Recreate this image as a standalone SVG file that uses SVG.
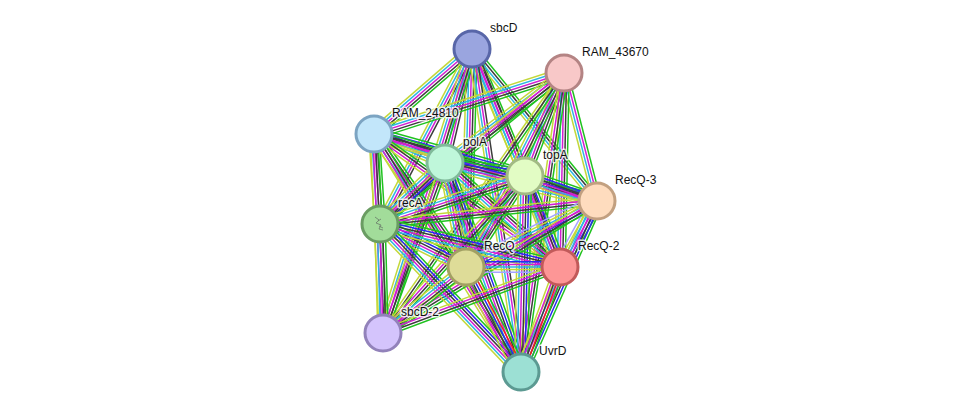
<svg xmlns="http://www.w3.org/2000/svg" width="975" height="417" viewBox="0 0 975 417">
<style>
#edges line{stroke-width:1.5;fill:none}
.n{stroke:#1fc21f}.f{stroke:#f02020}.o{stroke:#2828f0}.c{stroke:#3c3c3c}.e{stroke:#d21ed2}.d{stroke:#2eb6e2}.t{stroke:#c3d83a}.h{stroke:#a4a4ff}
.node circle{stroke-width:3}
.lbl{font-family:"Liberation Sans",Arial,sans-serif;font-size:12px;fill:#111;stroke:#fff;stroke-width:3px;stroke-opacity:0.8;paint-order:stroke;stroke-linejoin:round}
</style>
<rect width="975" height="417" fill="#fff"/>
<g id="edges">
<!-- sbcD -->
<g transform="translate(472 49) rotate(139.1)"><line class="n" x2="130" y1="-5.2" y2="-5.2"/><line class="c" x2="130" y1="-2.6" y2="-2.6"/><line class="e" x2="130"/><line class="d" x2="130" y1="2.6" y2="2.6"/><line class="t" x2="130" y1="5.2" y2="5.2"/></g>
<g transform="translate(472 49) rotate(103.3)"><line class="c" x2="117" y1="-3.9" y2="-3.9"/><line class="e" x2="117" y1="-1.3" y2="-1.3"/><line class="d" x2="117" y1="1.3" y2="1.3"/><line class="t" x2="117" y1="3.9" y2="3.9"/></g>
<g transform="translate(472 49) rotate(67.35)"><line class="n" x2="138" y1="-5.2" y2="-5.2"/><line class="c" x2="138" y1="-2.6" y2="-2.6"/><line class="e" x2="138"/><line class="d" x2="138" y1="2.6" y2="2.6"/><line class="t" x2="138" y1="5.2" y2="5.2"/></g>
<g transform="translate(472 49) rotate(50.56)"><line class="n" x2="197" y1="-3.9" y2="-3.9"/><line class="c" x2="197" y1="-1.3" y2="-1.3"/><line class="d" x2="197" y1="1.3" y2="1.3"/><line class="t" x2="197" y1="3.9" y2="3.9"/></g>
<g transform="translate(472 49) rotate(117.73)"><line class="c" x2="198" y1="-3.9" y2="-3.9"/><line class="e" x2="198" y1="-1.3" y2="-1.3"/><line class="d" x2="198" y1="1.3" y2="1.3"/><line class="t" x2="198" y1="3.9" y2="3.9"/></g>
<g transform="translate(472 49) rotate(91.58)"><line class="n" x2="218" y1="-5.2" y2="-5.2"/><line class="c" x2="218" y1="-2.6" y2="-2.6"/><line class="e" x2="218"/><line class="d" x2="218" y1="2.6" y2="2.6"/><line class="t" x2="218" y1="5.2" y2="5.2"/></g>
<g transform="translate(472 49) rotate(68.02)"><line class="c" x2="235" y1="-3.9" y2="-3.9"/><line class="e" x2="235" y1="-1.3" y2="-1.3"/><line class="d" x2="235" y1="1.3" y2="1.3"/><line class="t" x2="235" y1="3.9" y2="3.9"/></g>
<g transform="translate(472 49) rotate(107.4)"><line class="n" x2="298" y1="-5.2" y2="-5.2"/><line class="c" x2="298" y1="-2.6" y2="-2.6"/><line class="e" x2="298"/><line class="d" x2="298" y1="2.6" y2="2.6"/><line class="t" x2="298" y1="5.2" y2="5.2"/></g>
<g transform="translate(472 49) rotate(81.37)"><line class="c" x2="327" y1="-3.9" y2="-3.9"/><line class="e" x2="327" y1="-1.3" y2="-1.3"/><line class="d" x2="327" y1="1.3" y2="1.3"/><line class="t" x2="327" y1="3.9" y2="3.9"/></g>
<!-- RAM_43670 -->
<g transform="translate(564 73) rotate(162.2)"><line class="n" x2="200" y1="-5.2" y2="-5.2"/><line class="c" x2="200" y1="-2.6" y2="-2.6"/><line class="e" x2="200"/><line class="d" x2="200" y1="2.6" y2="2.6"/><line class="t" x2="200" y1="5.2" y2="5.2"/></g>
<g transform="translate(564 73) rotate(142.9)"><line class="n" x2="149" y1="-5.2" y2="-5.2"/><line class="c" x2="149" y1="-2.6" y2="-2.6"/><line class="e" x2="149"/><line class="d" x2="149" y1="2.6" y2="2.6"/><line class="t" x2="149" y1="5.2" y2="5.2"/></g>
<g transform="translate(564 73) rotate(110.74)"><line class="n" x2="110" y1="-5.2" y2="-5.2"/><line class="c" x2="110" y1="-2.6" y2="-2.6"/><line class="e" x2="110"/><line class="d" x2="110" y1="2.6" y2="2.6"/><line class="t" x2="110" y1="5.2" y2="5.2"/></g>
<g transform="translate(564 73) rotate(75.54)"><line class="n" x2="132" y1="-3.9" y2="-3.9"/><line class="e" x2="132" y1="-1.3" y2="-1.3"/><line class="d" x2="132" y1="1.3" y2="1.3"/><line class="t" x2="132" y1="3.9" y2="3.9"/></g>
<g transform="translate(564 73) rotate(140.63)"><line class="n" x2="238" y1="-3.9" y2="-3.9"/><line class="c" x2="238" y1="-1.3" y2="-1.3"/><line class="e" x2="238" y1="1.3" y2="1.3"/><line class="t" x2="238" y1="3.9" y2="3.9"/></g>
<g transform="translate(564 73) rotate(116.8)"><line class="n" x2="217" y1="-5.2" y2="-5.2"/><line class="c" x2="217" y1="-2.6" y2="-2.6"/><line class="e" x2="217"/><line class="d" x2="217" y1="2.6" y2="2.6"/><line class="t" x2="217" y1="5.2" y2="5.2"/></g>
<g transform="translate(564 73) rotate(91.18)"><line class="n" x2="194" y1="-5.2" y2="-5.2"/><line class="c" x2="194" y1="-2.6" y2="-2.6"/><line class="e" x2="194"/><line class="d" x2="194" y1="2.6" y2="2.6"/><line class="t" x2="194" y1="5.2" y2="5.2"/></g>
<g transform="translate(564 73) rotate(124.85)"><line class="n" x2="317" y1="-2.6" y2="-2.6"/><line class="c" x2="317"/><line class="t" x2="317" y1="2.6" y2="2.6"/></g>
<g transform="translate(564 73) rotate(98.18)"><line class="n" x2="302" y1="-3.9" y2="-3.9"/><line class="c" x2="302" y1="-1.3" y2="-1.3"/><line class="e" x2="302" y1="1.3" y2="1.3"/><line class="t" x2="302" y1="3.9" y2="3.9"/></g>
<!-- RAM_24810 -->
<g transform="translate(374 134) rotate(22.22)"><line class="o" x2="77" y1="-5.2" y2="-5.2"/><line class="c" x2="77" y1="-2.6" y2="-2.6"/><line class="e" x2="77"/><line class="d" x2="77" y1="2.6" y2="2.6"/><line class="t" x2="77" y1="5.2" y2="5.2"/></g>
<g transform="translate(374 134) rotate(15.54)"><line class="n" x2="157" y1="-6.5" y2="-6.5"/><line class="o" x2="157" y1="-3.9" y2="-3.9"/><line class="c" x2="157" y1="-1.3" y2="-1.3"/><line class="e" x2="157" y1="1.3" y2="1.3"/><line class="d" x2="157" y1="3.9" y2="3.9"/><line class="t" x2="157" y1="6.5" y2="6.5"/></g>
<g transform="translate(374 134) rotate(16.72)"><line class="n" x2="233" y1="-3.9" y2="-3.9"/><line class="c" x2="233" y1="-1.3" y2="-1.3"/><line class="e" x2="233" y1="1.3" y2="1.3"/><line class="t" x2="233" y1="3.9" y2="3.9"/></g>
<g transform="translate(374 134) rotate(86.19)"><line class="n" x2="90" y1="-5.2" y2="-5.2"/><line class="c" x2="90" y1="-2.6" y2="-2.6"/><line class="e" x2="90"/><line class="d" x2="90" y1="2.6" y2="2.6"/><line class="t" x2="90" y1="5.2" y2="5.2"/></g>
<g transform="translate(374 134) rotate(55.33)"><line class="n" x2="162" y1="-5.2" y2="-5.2"/><line class="c" x2="162" y1="-2.6" y2="-2.6"/><line class="e" x2="162"/><line class="d" x2="162" y1="2.6" y2="2.6"/><line class="t" x2="162" y1="5.2" y2="5.2"/></g>
<g transform="translate(374 134) rotate(35.56)"><line class="n" x2="229" y1="-3.9" y2="-3.9"/><line class="c" x2="229" y1="-1.3" y2="-1.3"/><line class="e" x2="229" y1="1.3" y2="1.3"/><line class="t" x2="229" y1="3.9" y2="3.9"/></g>
<g transform="translate(374 134) rotate(87.41)"><line class="n" x2="199" y1="-3.9" y2="-3.9"/><line class="c" x2="199" y1="-1.3" y2="-1.3"/><line class="e" x2="199" y1="1.3" y2="1.3"/><line class="t" x2="199" y1="3.9" y2="3.9"/></g>
<g transform="translate(374 134) rotate(58.3)"><line class="n" x2="280" y1="-3.9" y2="-3.9"/><line class="c" x2="280" y1="-1.3" y2="-1.3"/><line class="e" x2="280" y1="1.3" y2="1.3"/><line class="t" x2="280" y1="3.9" y2="3.9"/></g>
<!-- polA -->
<g transform="translate(445 163) rotate(9.23)"><line class="n" x2="81" y1="-6.5" y2="-6.5"/><line class="o" x2="81" y1="-3.9" y2="-3.9"/><line class="c" x2="81" y1="-1.3" y2="-1.3"/><line class="e" x2="81" y1="1.3" y2="1.3"/><line class="d" x2="81" y1="3.9" y2="3.9"/><line class="t" x2="81" y1="6.5" y2="6.5"/></g>
<g transform="translate(445 163) rotate(14.04)"><line class="n" x2="157" y1="-6.5" y2="-6.5"/><line class="o" x2="157" y1="-3.9" y2="-3.9"/><line class="c" x2="157" y1="-1.3" y2="-1.3"/><line class="e" x2="157" y1="1.3" y2="1.3"/><line class="d" x2="157" y1="3.9" y2="3.9"/><line class="t" x2="157" y1="6.5" y2="6.5"/></g>
<g transform="translate(445 163) rotate(136.82)"><line class="n" x2="89" y1="-6.5" y2="-6.5"/><line class="o" x2="89" y1="-3.9" y2="-3.9"/><line class="c" x2="89" y1="-1.3" y2="-1.3"/><line class="e" x2="89" y1="1.3" y2="1.3"/><line class="d" x2="89" y1="3.9" y2="3.9"/><line class="t" x2="89" y1="6.5" y2="6.5"/></g>
<g transform="translate(445 163) rotate(78.58)"><line class="n" x2="106" y1="-6.5" y2="-6.5"/><line class="o" x2="106" y1="-3.9" y2="-3.9"/><line class="c" x2="106" y1="-1.3" y2="-1.3"/><line class="e" x2="106" y1="1.3" y2="1.3"/><line class="d" x2="106" y1="3.9" y2="3.9"/><line class="t" x2="106" y1="6.5" y2="6.5"/></g>
<g transform="translate(445 163) rotate(42.13)"><line class="n" x2="155" y1="-5.2" y2="-5.2"/><line class="c" x2="155" y1="-2.6" y2="-2.6"/><line class="e" x2="155"/><line class="d" x2="155" y1="2.6" y2="2.6"/><line class="t" x2="155" y1="5.2" y2="5.2"/></g>
<g transform="translate(445 163) rotate(110.04)"><line class="n" x2="181" y1="-3.9" y2="-3.9"/><line class="c" x2="181" y1="-1.3" y2="-1.3"/><line class="e" x2="181" y1="1.3" y2="1.3"/><line class="t" x2="181" y1="3.9" y2="3.9"/></g>
<g transform="translate(445 163) rotate(70.02)"><line class="n" x2="222" y1="-6.5" y2="-6.5"/><line class="o" x2="222" y1="-3.9" y2="-3.9"/><line class="c" x2="222" y1="-1.3" y2="-1.3"/><line class="e" x2="222" y1="1.3" y2="1.3"/><line class="d" x2="222" y1="3.9" y2="3.9"/><line class="t" x2="222" y1="6.5" y2="6.5"/></g>
<!-- topA -->
<g transform="translate(525 176) rotate(19.15)"><line class="n" x2="76" y1="-6.5" y2="-6.5"/><line class="o" x2="76" y1="-3.9" y2="-3.9"/><line class="c" x2="76" y1="-1.3" y2="-1.3"/><line class="e" x2="76" y1="1.3" y2="1.3"/><line class="d" x2="76" y1="3.9" y2="3.9"/><line class="t" x2="76" y1="6.5" y2="6.5"/></g>
<g transform="translate(525 176) rotate(161.68)"><line class="n" x2="153" y1="-5.2" y2="-5.2"/><line class="c" x2="153" y1="-2.6" y2="-2.6"/><line class="e" x2="153"/><line class="d" x2="153" y1="2.6" y2="2.6"/><line class="t" x2="153" y1="5.2" y2="5.2"/></g>
<g transform="translate(525 176) rotate(122.96)"><line class="n" x2="108" y1="-5.2" y2="-5.2"/><line class="c" x2="108" y1="-2.6" y2="-2.6"/><line class="e" x2="108"/><line class="d" x2="108" y1="2.6" y2="2.6"/><line class="t" x2="108" y1="5.2" y2="5.2"/></g>
<g transform="translate(525 176) rotate(68.96)"><line class="n" x2="97" y1="-6.5" y2="-6.5"/><line class="o" x2="97" y1="-3.9" y2="-3.9"/><line class="c" x2="97" y1="-1.3" y2="-1.3"/><line class="e" x2="97" y1="1.3" y2="1.3"/><line class="d" x2="97" y1="3.9" y2="3.9"/><line class="t" x2="97" y1="6.5" y2="6.5"/></g>
<g transform="translate(525 176) rotate(132.13)"><line class="n" x2="212" y1="-3.9" y2="-3.9"/><line class="c" x2="212" y1="-1.3" y2="-1.3"/><line class="e" x2="212" y1="1.3" y2="1.3"/><line class="t" x2="212" y1="3.9" y2="3.9"/></g>
<g transform="translate(525 176) rotate(91.17)"><line class="n" x2="196" y1="-6.5" y2="-6.5"/><line class="o" x2="196" y1="-3.9" y2="-3.9"/><line class="c" x2="196" y1="-1.3" y2="-1.3"/><line class="e" x2="196" y1="1.3" y2="1.3"/><line class="d" x2="196" y1="3.9" y2="3.9"/><line class="t" x2="196" y1="6.5" y2="6.5"/></g>
<!-- RecQ-3 -->
<g transform="translate(597 201) rotate(173.95)"><line class="n" x2="218" y1="-3.9" y2="-3.9"/><line class="c" x2="218" y1="-1.3" y2="-1.3"/><line class="e" x2="218" y1="1.3" y2="1.3"/><line class="t" x2="218" y1="3.9" y2="3.9"/></g>
<g transform="translate(597 201) rotate(153.26)"><line class="n" x2="147" y1="-6.5" y2="-6.5"/><line class="o" x2="147" y1="-3.9" y2="-3.9"/><line class="e" x2="147" y1="-1.3" y2="-1.3"/><line class="d" x2="147" y1="1.3" y2="1.3"/><line class="t" x2="147" y1="3.9" y2="3.9"/><line class="h" x2="147" y1="6.5" y2="6.5"/></g>
<g transform="translate(597 201) rotate(119.27)"><line class="n" x2="76" y1="-6.5" y2="-6.5"/><line class="o" x2="76" y1="-3.9" y2="-3.9"/><line class="e" x2="76" y1="-1.3" y2="-1.3"/><line class="d" x2="76" y1="1.3" y2="1.3"/><line class="t" x2="76" y1="3.9" y2="3.9"/><line class="h" x2="76" y1="6.5" y2="6.5"/></g>
<g transform="translate(597 201) rotate(148.33)"><line class="n" x2="251" y1="-3.9" y2="-3.9"/><line class="c" x2="251" y1="-1.3" y2="-1.3"/><line class="e" x2="251" y1="1.3" y2="1.3"/><line class="t" x2="251" y1="3.9" y2="3.9"/></g>
<g transform="translate(597 201) rotate(113.96)"><line class="n" x2="187" y1="-6.5" y2="-6.5"/><line class="o" x2="187" y1="-3.9" y2="-3.9"/><line class="c" x2="187" y1="-1.3" y2="-1.3"/><line class="e" x2="187" y1="1.3" y2="1.3"/><line class="d" x2="187" y1="3.9" y2="3.9"/><line class="t" x2="187" y1="6.5" y2="6.5"/></g>
<!-- recA -->
<g transform="translate(380 224) rotate(26.57)"><line class="n" x2="96" y1="-6.5" y2="-6.5"/><line class="o" x2="96" y1="-3.9" y2="-3.9"/><line class="c" x2="96" y1="-1.3" y2="-1.3"/><line class="e" x2="96" y1="1.3" y2="1.3"/><line class="d" x2="96" y1="3.9" y2="3.9"/><line class="t" x2="96" y1="6.5" y2="6.5"/></g>
<g transform="translate(380 224) rotate(13.44)"><line class="n" x2="185" y1="-6.5" y2="-6.5"/><line class="o" x2="185" y1="-3.9" y2="-3.9"/><line class="c" x2="185" y1="-1.3" y2="-1.3"/><line class="e" x2="185" y1="1.3" y2="1.3"/><line class="d" x2="185" y1="3.9" y2="3.9"/><line class="t" x2="185" y1="6.5" y2="6.5"/></g>
<g transform="translate(380 224) rotate(88.42)"><line class="n" x2="109" y1="-5.2" y2="-5.2"/><line class="c" x2="109" y1="-2.6" y2="-2.6"/><line class="e" x2="109"/><line class="d" x2="109" y1="2.6" y2="2.6"/><line class="t" x2="109" y1="5.2" y2="5.2"/></g>
<g transform="translate(380 224) rotate(46.39)"><line class="n" x2="204" y1="-6.5" y2="-6.5"/><line class="o" x2="204" y1="-3.9" y2="-3.9"/><line class="c" x2="204" y1="-1.3" y2="-1.3"/><line class="e" x2="204" y1="1.3" y2="1.3"/><line class="d" x2="204" y1="3.9" y2="3.9"/><line class="t" x2="204" y1="6.5" y2="6.5"/></g>
<!-- RecQ -->
<g transform="translate(466 267)"><line class="o" x2="94" y1="-5.2" y2="-5.2"/><line class="e" x2="94" y1="-2.6" y2="-2.6"/><line class="d" x2="94"/><line class="t" x2="94" y1="2.6" y2="2.6"/><line class="h" x2="94" y1="5.2" y2="5.2"/></g>
<g transform="translate(466 267) rotate(141.51)"><line class="n" x2="106" y1="-5.2" y2="-5.2"/><line class="c" x2="106" y1="-2.6" y2="-2.6"/><line class="e" x2="106"/><line class="d" x2="106" y1="2.6" y2="2.6"/><line class="t" x2="106" y1="5.2" y2="5.2"/></g>
<g transform="translate(466 267) rotate(62.35)"><line class="n" x2="119" y1="-6.5" y2="-6.5"/><line class="f" x2="119" y1="-3.9" y2="-3.9"/><line class="o" x2="119" y1="-1.3" y2="-1.3"/><line class="c" x2="119" y1="1.3" y2="1.3"/><line class="e" x2="119" y1="3.9" y2="3.9"/><line class="t" x2="119" y1="6.5" y2="6.5"/></g>
<!-- RecQ-2 -->
<g transform="translate(560 267) rotate(159.55)"><line class="n" x2="189" y1="-3.9" y2="-3.9"/><line class="c" x2="189" y1="-1.3" y2="-1.3"/><line class="e" x2="189" y1="1.3" y2="1.3"/><line class="t" x2="189" y1="3.9" y2="3.9"/></g>
<g transform="translate(560 267) rotate(110.38)"><line class="n" x2="112" y1="-5.2" y2="-5.2"/><line class="f" x2="112" y1="-2.6" y2="-2.6"/><line class="c" x2="112"/><line class="e" x2="112" y1="2.6" y2="2.6"/><line class="t" x2="112" y1="5.2" y2="5.2"/></g>
</g>
<g id="node-sbcD" class="node"><circle cx="472" cy="49" r="18" fill="#9aa5df" stroke="#5866a8"/><text class="lbl" x="490" y="32">sbcD</text></g>
<g id="node-RAM_43670" class="node"><circle cx="564" cy="73" r="18" fill="#f8c8c8" stroke="#b48484"/><text class="lbl" x="582" y="56">RAM_43670</text></g>
<g id="node-RAM_24810" class="node"><circle cx="374" cy="134" r="18" fill="#c2e6fa" stroke="#7ca4c2"/><text class="lbl" x="392" y="117">RAM_24810</text></g>
<g id="node-polA" class="node"><circle cx="445" cy="163" r="18" fill="#bff7da" stroke="#80ba9a"/><text class="lbl" x="463" y="146">polA</text></g>
<g id="node-topA" class="node"><circle cx="525" cy="176" r="18" fill="#e2fcc4" stroke="#a2ba84"/><text class="lbl" x="543" y="159">topA</text></g>
<g id="node-RecQ-3" class="node"><circle cx="597" cy="201" r="18" fill="#fedcbe" stroke="#c2a080"/><text class="lbl" x="615" y="184">RecQ-3</text></g>
<g id="node-recA" class="node"><circle cx="380" cy="224" r="18" fill="#a2dc9a" stroke="#6a9c62"/><path d="M375 217 l4 3 l-3 3 l5 2 l-2 4 l4 1 M378 221 l3 -2 M379 226 l4 2" fill="none" stroke="#6a7a6a" stroke-width="0.8"/><text class="lbl" x="398" y="207">recA</text></g>
<g id="node-RecQ" class="node"><circle cx="466" cy="267" r="18" fill="#dedc98" stroke="#a2a062"/><text class="lbl" x="484" y="250">RecQ</text></g>
<g id="node-RecQ-2" class="node"><circle cx="560" cy="267" r="18" fill="#fd9696" stroke="#c25a5a"/><text class="lbl" x="578" y="250">RecQ-2</text></g>
<g id="node-sbcD-2" class="node"><circle cx="383" cy="333" r="18" fill="#d4c4fc" stroke="#9282ba"/><text class="lbl" x="401" y="316">sbcD-2</text></g>
<g id="node-UvrD" class="node"><circle cx="521" cy="372" r="18" fill="#9ce0d4" stroke="#5c9a92"/><text class="lbl" x="539" y="355">UvrD</text></g>
</svg>
